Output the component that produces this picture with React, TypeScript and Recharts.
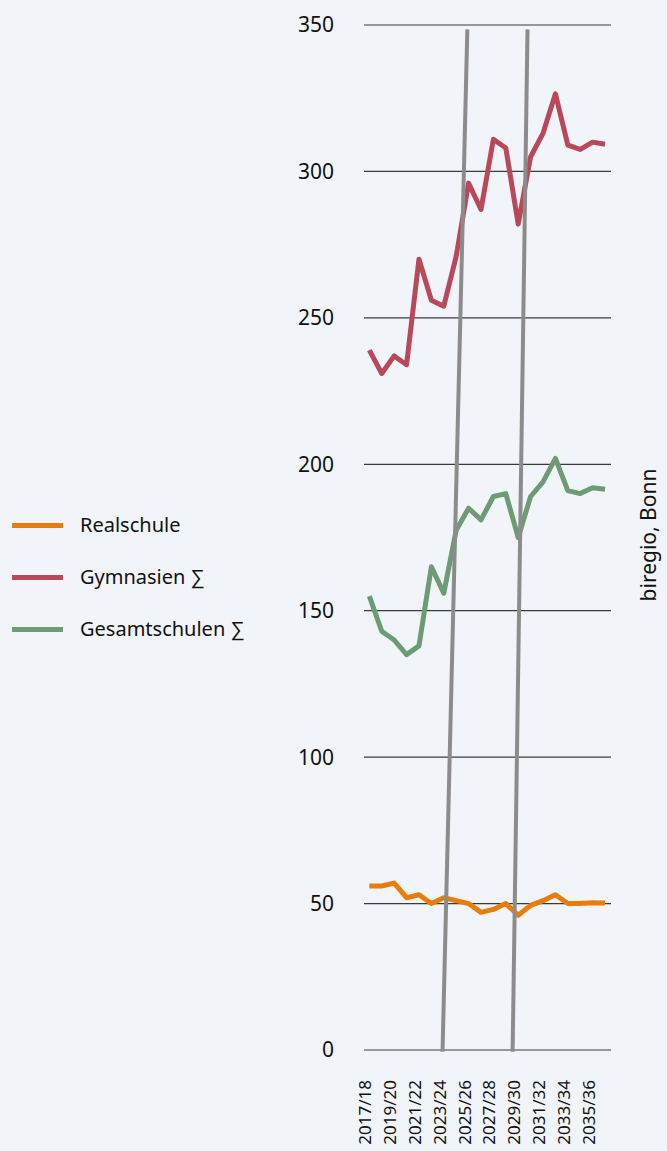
import React from "react";
import {
  LineChart,
  Line,
  XAxis,
  YAxis,
  CartesianGrid,
  ReferenceLine,
} from "recharts";

const years = [
  "2017/18", "2018/19", "2019/20", "2020/21", "2021/22", "2022/23", "2023/24",
  "2024/25", "2025/26", "2026/27", "2027/28", "2028/29", "2029/30", "2030/31",
  "2031/32", "2032/33", "2033/34", "2034/35", "2035/36", "2036/37",
];

const realschule = [
  56, 56, 57, 52, 53, 50, 52, 51, 50, 47, 48, 50, 46, 49.4, 51, 53, 50, 50, 50.3, 50.2,
];
const gymnasien = [
  239, 231, 237, 234, 270, 256, 254, 271, 296, 287, 311, 308, 282, 305, 313, 326.5, 309, 307.5, 310, 309.3,
];
const gesamtschulen = [
  155, 143, 140, 135, 138, 165, 156, 177.5, 185, 181, 189, 190, 175, 189, 194, 202, 191, 190, 192, 191.5,
];

const yTicks = [0, 50, 100, 150, 200, 250, 300, 350];
const xTicks = [0, 2, 4, 6, 8, 10, 12, 14, 16, 18];

// grey slanted markers, in chart units (x = year index, y = value)
const dividers = [
  { x1: 5.9, y1: -0.6, x2: 7.9, y2: 348.5 },
  { x1: 11.55, y1: -0.6, x2: 12.75, y2: 348.5 },
];

const series = [
  { key: "realschule", name: "Realschule", color: "#e97d0c" },
  { key: "gymnasien", name: "Gymnasien ∑", color: "#b8485a" },
  { key: "gesamtschulen", name: "Gesamtschulen ∑", color: "#6d9b74" },
];

const data = years.map((y, i) => ({
  idx: i,
  year: y,
  realschule: realschule[i],
  gymnasien: gymnasien[i],
  gesamtschulen: gesamtschulen[i],
}));

const font = "'Noto Sans', sans-serif";

function XTick({ x, y, payload }: any) {
  return (
    <text
      x={x}
      y={y}
      dy={2}
      transform={`rotate(-90 ${x} ${y})`}
      textAnchor="end"
      fontSize={17}
      fontFamily={font}
      fill="#111"
    >
      {years[payload.value]}
    </text>
  );
}

export default function App() {
  return (
    <div
      style={{
        position: "relative",
        width: 667,
        height: 1151,
        background: "#f1f5f9",
        fontFamily: font,
      }}
    >
      <style>{`body{margin:0}`}</style>
      <LineChart
        width={667}
        height={1151}
        data={data}
        margin={{ top: 25, right: 56, left: 304, bottom: 11 }}
      >
        <CartesianGrid vertical={false} stroke="#3a3a3a" strokeWidth={1.2} />
        <XAxis
          dataKey="idx"
          type="number"
          domain={[-0.43, 19.48]}
          ticks={xTicks}
          interval={0}
          height={90}
          axisLine={false}
          tickLine={false}
          tickSize={0}
          tickMargin={30}
          tick={<XTick />}
          allowDataOverflow
        />
        <YAxis
          domain={[0, 350]}
          ticks={yTicks}
          width={60}
          axisLine={false}
          tickLine={false}
          tickSize={0}
          tickMargin={30}
          tick={{ fontSize: 21, fill: "#111", fontFamily: font }}
        />
        {series.map((s) => (
          <Line
            key={s.key}
            dataKey={s.key}
            stroke={s.color}
            strokeWidth={5}
            dot={false}
            isAnimationActive={false}
            strokeLinejoin="round"
          />
        ))}
        {dividers.map((d, i) => (
          <ReferenceLine
            key={i}
            segment={[
              { x: d.x1, y: d.y1 },
              { x: d.x2, y: d.y2 },
            ]}
            stroke="#8c8c8c"
            strokeWidth={4}
            ifOverflow="visible"
          />
        ))}
      </LineChart>
      <div style={{ position: "absolute", left: 12, top: 499 }}>
        {series.map((s) => (
          <div
            key={s.key}
            style={{ display: "flex", alignItems: "center", height: 52 }}
          >
            <div
              style={{ width: 51, height: 5, background: s.color, marginRight: 17 }}
            />
            <span style={{ fontSize: 20, color: "#111", lineHeight: "24px" }}>
              {s.name}
            </span>
          </div>
        ))}
      </div>
      <svg
        width={40}
        height={200}
        style={{ position: "absolute", left: 627, top: 435 }}
      >
        <text
          x={22}
          y={100}
          transform="rotate(-90 22 100)"
          textAnchor="middle"
          dy="0.35em"
          fontSize={21}
          fontFamily={font}
          fill="#111"
        >
          biregio, Bonn
        </text>
      </svg>
    </div>
  );
}
